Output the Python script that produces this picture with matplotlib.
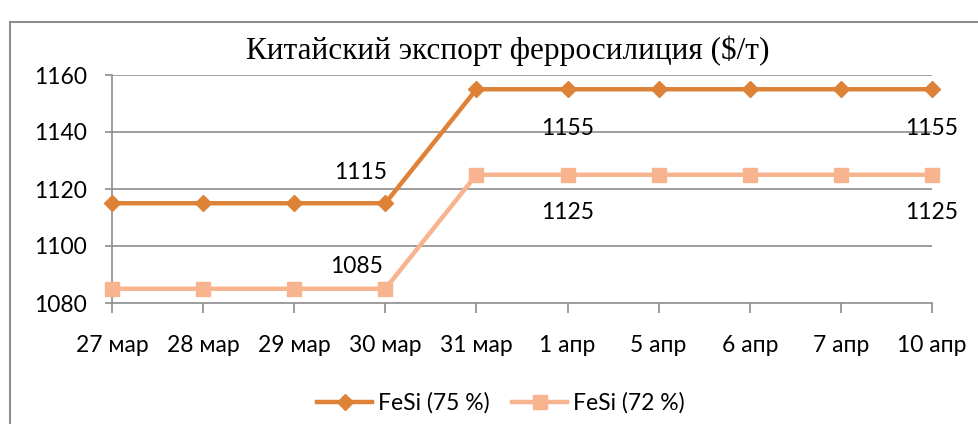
import matplotlib
matplotlib.use("Agg")
import matplotlib.pyplot as plt
from matplotlib.patches import Rectangle

# data
dates = ["27 мар", "28 мар", "29 мар", "30 мар", "31 мар",
         "1 апр", "5 апр", "6 апр", "7 апр", "10 апр"]
fesi75 = [1115, 1115, 1115, 1115, 1155, 1155, 1155, 1155, 1155, 1155]
fesi72 = [1085, 1085, 1085, 1085, 1125, 1125, 1125, 1125, 1125, 1125]
yticks = [1080, 1100, 1120, 1140, 1160]

c75 = "#DE8238"
c72 = "#F8B48E"
grid = "#8C8C8C"
sans = "Lato"
fs = 16.5

fig = plt.figure(figsize=(9.79, 4.24), dpi=100)
fig.patch.set_facecolor("white")

# outer chart frame
fig.patches.append(Rectangle((10 / 979, -0.1), 1.2, (424 - 22) / 424 + 0.1,
                             transform=fig.transFigure, fill=False,
                             edgecolor="#8C8C8C", linewidth=1.5))

ax = fig.add_axes([112 / 979, 121 / 424, 820 / 979, 228 / 424])
x = list(range(len(dates)))

ax.plot(x, fesi75, color=c75, linewidth=3.2, marker="D", markersize=8,
        label="FeSi (75 %)", clip_on=False, zorder=4)
ax.plot(x, fesi72, color=c72, linewidth=3.2, marker="s", markersize=9.5,
        label="FeSi (72 %)", clip_on=False, zorder=3)

ax.set_xlim(0, len(dates) - 1)
ax.set_ylim(yticks[0], yticks[-1])
ax.set_yticks(yticks)
ax.set_xticks(x)
ax.set_xticklabels(dates)

for yv in yticks[1:]:
    ax.axhline(yv, color=grid, linewidth=1.2, zorder=1)

for s in ["top", "right"]:
    ax.spines[s].set_visible(False)
for s in ["left", "bottom"]:
    ax.spines[s].set_color(grid)
    ax.spines[s].set_linewidth(1.2)

ax.tick_params(axis="y", length=5, width=1.2, color=grid, pad=13,
               labelsize=fs)
ax.tick_params(axis="x", length=7, width=1.2, color=grid, pad=16,
               labelsize=fs)
for lab in ax.get_xticklabels() + ax.get_yticklabels():
    lab.set_fontfamily(sans)

# data labels
lab_kw = dict(textcoords="offset points", fontsize=fs, family=sans)
ax.annotate(str(fesi75[3]), (3, fesi75[3]), xytext=(1.5, 22), ha="right",
            va="center", **lab_kw)
ax.annotate(str(fesi72[3]), (3, fesi72[3]), xytext=(-2, 16), ha="right",
            va="center", **lab_kw)
for i in [5, 9]:
    ax.annotate(str(fesi75[i]), (i, fesi75[i]), xytext=(0, -28),
                ha="center", va="center", **lab_kw)
    ax.annotate(str(fesi72[i]), (i, fesi72[i]), xytext=(0, -27),
                ha="center", va="center", **lab_kw)

fig.text(508 / 979, 1 - 51 / 424, "Китайский экспорт ферросилиция ($/т)",
         ha="center", va="center", fontsize=22.5, family="Liberation Serif")

leg = fig.legend(loc="center", bbox_to_anchor=(501 / 979, 1 - 403 / 424),
                 ncol=2, frameon=False, prop={"family": sans, "size": fs},
                 handlelength=2.4, columnspacing=1.0, handletextpad=0.25)

fig.savefig("out.png", dpi=100)
